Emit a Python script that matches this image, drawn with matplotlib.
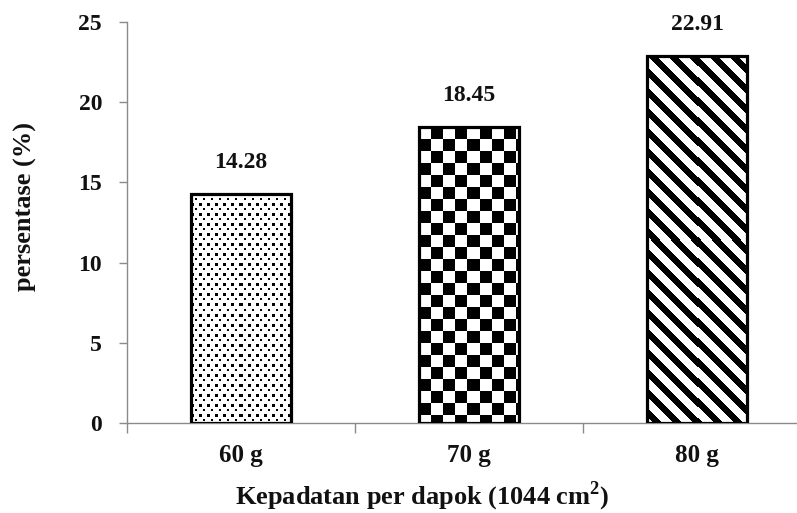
import numpy as np
from matplotlib import pyplot as plt

categories = ['60 g', '70 g', '80 g']
values = [14.28, 18.45, 22.91]
patterns = ['dots', 'checker', 'stripes']

plt.rcParams['font.family'] = ['Liberation Serif', 'DejaVu Serif']
plt.rcParams['font.weight'] = 'bold'
plt.rcParams['mathtext.fontset'] = 'custom'
plt.rcParams['mathtext.rm'] = 'Liberation Serif:bold'
plt.rcParams['mathtext.bf'] = 'Liberation Serif:bold'

fig = plt.figure(figsize=(7.97, 5.13), dpi=100)
W, H = 797, 513
ax = fig.add_axes([127 / W, 90 / H, 670 / W, 401 / H])

x = np.arange(len(categories))
xmax = -0.5 + 670 / 228
ax.set_xlim(-0.5, xmax)
ax.set_ylim(0, 25)

bars = ax.bar(x, values, width=0.44, facecolor='none', edgecolor='black',
              linewidth=2.3, zorder=3)


def make_pattern(kind, h, w):
    r, c = np.mgrid[0:h, 0:w]
    if kind == 'dots':
        a = ((r % 10) < 3) & ((c % 8) < 3)
        b = (((r - 5) % 10) < 2) & (((c - 4) % 8) < 2)
        black = a | b
    elif kind == 'checker':
        black = ((r // 12) + (c // 12)) % 2 == 1
    else:
        black = ((c - r) % 20) < 9
    return np.where(black, 0.0, 1.0)


# fill patterns drawn as images clipped to the bars
fig.canvas.draw()
for rect, kind in zip(bars, patterns):
    x0, y0 = rect.get_x(), rect.get_y()
    x1, y1 = x0 + rect.get_width(), y0 + rect.get_height()
    (px0, py0), (px1, py1) = ax.transData.transform([(x0, y0), (x1, y1)])
    pw, ph = int(round(px1 - px0)), int(round(py1 - py0))
    img = make_pattern(kind, ph, pw)
    im = ax.imshow(img, cmap='gray', vmin=0, vmax=1, extent=(x0, x1, y0, y1),
                   origin='upper', aspect='auto', interpolation='nearest', zorder=2)
    im.set_clip_path(rect)

ax.set_xlim(-0.5, xmax)
ax.set_ylim(0, 25)

for rect, v in zip(bars, values):
    ax.annotate(f'{v:.2f}', (rect.get_x() + rect.get_width() / 2, v),
                xytext=(0, 15), textcoords='offset points', ha='center', va='bottom',
                fontsize=17, fontweight='bold', color='#111111')

# spines
for s in ['top', 'right']:
    ax.spines[s].set_visible(False)
for s in ['left', 'bottom']:
    ax.spines[s].set_color('#8a8a8a')
    ax.spines[s].set_linewidth(1.0)

ax.set_yticks([0, 5, 10, 15, 20, 25])
ax.tick_params(axis='y', length=6, width=1, color='#8a8a8a', pad=12,
               labelsize=17, labelcolor='#111111')
ax.set_xticks([-0.5, 0.5, 1.5], labels=['', '', ''])
ax.set_xticks(x, labels=categories, minor=True)
ax.tick_params(axis='x', which='major', length=7, width=1, color='#8a8a8a')
ax.tick_params(axis='x', which='minor', length=0, pad=15, labelsize=18,
               labelcolor='#111111')

ax.set_xlabel('Kepadatan per dapok (1044 cm$^{2}$)', fontsize=19,
              fontweight='bold', color='#111111')
ax.xaxis.set_label_coords(0.441, -0.14)
ax.set_ylabel('persentase (%)', fontsize=19, fontweight='bold', color='#111111')
ax.yaxis.set_label_coords(-0.135, 0.54)

fig.savefig('out.png', dpi=100)
